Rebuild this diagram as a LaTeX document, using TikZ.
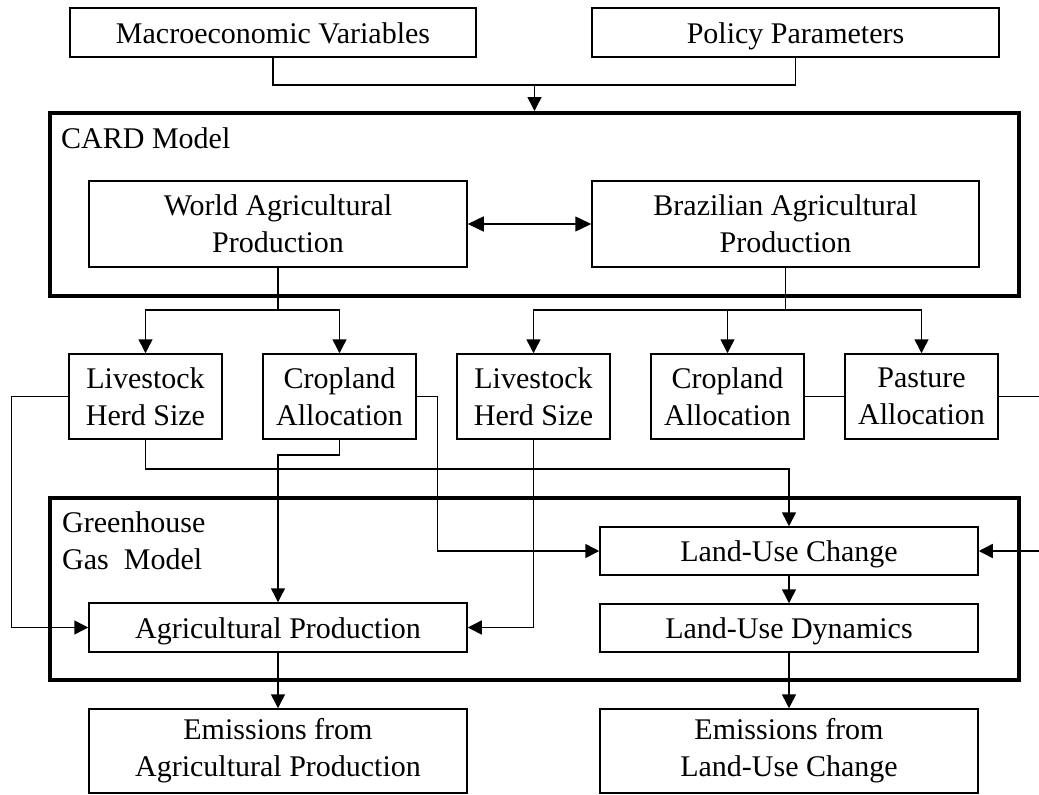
\documentclass[tikz,border=0pt]{standalone}
\usepackage{fontspec}
\setmainfont{Liberation Serif}
\usetikzlibrary{arrows.meta,positioning}

\begin{document}
\begin{tikzpicture}[
    x=1pt, y=-1pt,
    font=\fontsize{30}{37}\selectfont,
    box/.style={rectangle, draw, line width=1.5pt, align=center, inner sep=0pt},
    onebox/.style={box, text height=21pt, text depth=0pt},
    rowbox/.style={box, minimum width=153pt, minimum height=85pt},
    modelbox/.style={rectangle, draw, line width=4pt, inner sep=0pt},
    link/.style={line width=1.5pt},
    arrow/.style={line width=1.5pt, -{Triangle[length=14pt,width=14pt]}}
]
\useasboundingbox (0,0) rectangle (1039,795);

% Inputs at top
\node[onebox, minimum width=406pt, minimum height=49pt] (macro) at (273,32.5) {Macroeconomic Variables};
\node[onebox, minimum width=407pt, minimum height=49pt] (policy) at (795.5,32.5) {Policy Parameters};
\coordinate (merge) at (534.5,85);

% CARD model
\node[modelbox, minimum width=969pt, minimum height=183pt] (card) at (534.5,204.5) {};
\node[anchor=base west, inner sep=0pt] (cardlabel) at (61,148) {CARD Model};
\node[box, minimum width=378pt, minimum height=86pt] (world) at (278,224) {World Agricultural\\Production};
\node[box, minimum width=387pt, minimum height=86pt] (brazil) at (785.5,224) {Brazilian Agricultural\\Production};

% Allocation row
\node[rowbox] (herd1) at (145.5,396.5) {Livestock\\Herd Size};
\node[rowbox, right=39.5pt of herd1] (crop1) {Cropland\\Allocation};
\node[rowbox, right=39.5pt of crop1] (herd2) {Livestock\\Herd Size};
\node[rowbox, right=39.5pt of herd2] (crop2) {Cropland\\Allocation};
\node[rowbox, right=39.5pt of crop2] (pasture) {Pasture\\Allocation};
\coordinate (wsplit) at (278,310);
\coordinate (bsplit) at (785.5,310);

% Greenhouse gas model
\node[modelbox, minimum width=969pt, minimum height=182pt] (ghg) at (534.5,589) {};
\node[anchor=north west, inner sep=0pt, align=left] (ghglabel) at (62,511.5) {Greenhouse\\Gas\ \ Model};
\node[onebox, minimum width=378pt, minimum height=49pt] (agprod) at (278,627.5) {Agricultural Production};
\node[onebox, minimum width=378pt, minimum height=48pt] (luc) at (789,551) {Land-Use Change};
\node[onebox, minimum width=378pt, minimum height=48pt] (lud) at (789,628) {Land-Use Dynamics};

% Emissions
\node[box, minimum width=378pt, minimum height=84pt] (emis1) at (278,751) {Emissions from\\Agricultural Production};
\node[box, minimum width=378pt, minimum height=84pt] (emis2) at (789,751) {Emissions from\\Land-Use Change};

% Connections
\draw[link] (macro.south) |- (merge) -| (policy.south);
\draw[arrow] (merge) -- (card.north);
\draw[line width=1.5pt, {Triangle[length=16pt,width=15pt]}-{Triangle[length=16pt,width=15pt]}] (world) -- (brazil);

\draw[link] (world.south) -- (wsplit);
\draw[arrow] (wsplit) -| (herd1.north);
\draw[arrow] (wsplit) -| (crop1.north);
\draw[link] (brazil.south) -- (bsplit);
\draw[arrow] (bsplit) -| (herd2.north);
\draw[arrow] (bsplit) -| (crop2.north);
\draw[arrow] (bsplit) -| (pasture.north);

\draw[arrow] (herd1.west) -- ++(-57,0) |- (agprod.west);
\draw[arrow] (herd1.south) -- ++(0,29) -| (luc.north);
\draw[arrow] (crop1.south) -- ++(0,15) -| (agprod.north);
\draw[arrow] (crop1.east) -- ++(20.5,0) |- (luc.west);
\draw[arrow] (herd2.south) |- (agprod.east);
\draw[link] (crop2.east) -- (pasture.west);
\draw[arrow] (pasture.east) -- ++(49,0) |- (luc.east);

\draw[arrow] (luc) -- (lud);
\draw[arrow] (agprod) -- (emis1);
\draw[arrow] (lud) -- (emis2);

\end{tikzpicture}
\end{document}
